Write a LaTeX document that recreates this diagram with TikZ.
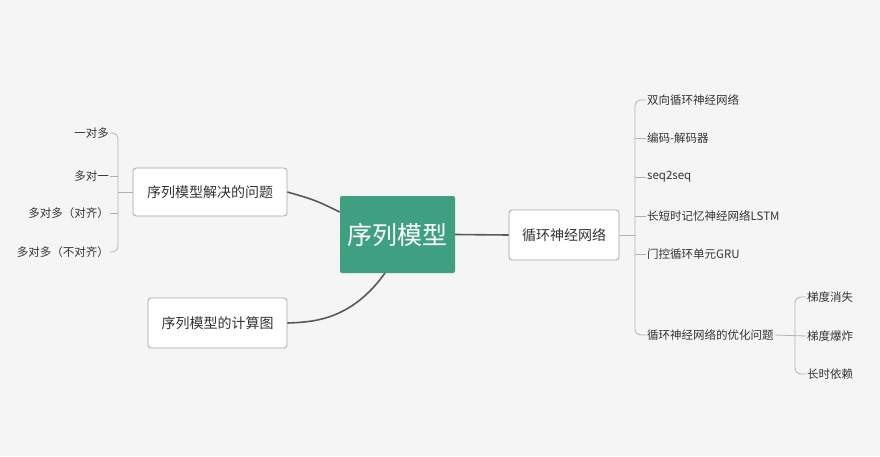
\documentclass[tikz,border=0pt]{standalone}
\usepackage{fontspec}
\setmainfont{Noto Sans CJK SC}
\definecolor{mgreen}{RGB}{62,160,128}
\begin{document}
\begin{tikzpicture}[x=1pt,y=-1pt,
  box/.style={draw=black!35,fill=white,rounded corners=3pt,line width=0.8pt,font=\fontsize{14}{16}\selectfont,text=black!80,inner sep=0pt},
  leaf/.style={font=\fontsize{11.5}{13}\selectfont,text=black!80,inner sep=1pt},
  br/.style={draw=black!30,line width=0.8pt},
  main/.style={draw=black!65,line width=1.6pt}]
\fill[black!4] (0,0) rectangle (880,456);
\useasboundingbox (0,0) rectangle (880,456);
\node[fill=mgreen,rounded corners=2pt,minimum width=115pt,minimum height=77pt,text=white,font=\fontsize{25}{28}\selectfont] (c) at (397.5,234.5) {序列模型};
\node[box,minimum width=154pt,minimum height=48pt] (b1) at (210,192) {序列模型解决的问题};
\node[box,minimum width=139pt,minimum height=50pt] (b2) at (217.5,323) {序列模型的计算图};
\node[box,minimum width=110pt,minimum height=50pt] (b3) at (564,235) {循环神经网络};
\draw[main] (c.west|-0,212) .. controls (315,200) .. (b1.east);
\draw[main] (385,273) .. controls (350,322) and (310,322) .. (b2.east);
\draw[main] (c.east) -- (b3.west);
% left leaves
\node[leaf,anchor=east] (l1) at (110,133) {一对多};
\node[leaf,anchor=east] (l2) at (110,176) {多对一};
\node[leaf,anchor=east] (l3) at (110,213) {多对多（对齐）};
\node[leaf,anchor=east] (l4) at (110,252) {多对多（不对齐）};
\coordinate (lj) at (118,192);
\draw[br] (b1.west) -- (lj);
\draw[br,rounded corners=6pt] (l1.east) -| (lj) |- (l4.east);
\draw[br] (l2.east) -- (118,176) (l3.east) -- (118,213);
% right leaves
\node[leaf,anchor=west] (r1) at (646,100) {双向循环神经网络};
\node[leaf,anchor=west] (r2) at (646,138) {编码-解码器};
\node[leaf,anchor=west] (r3) at (646,177) {seq2seq};
\node[leaf,anchor=west] (r4) at (646,216) {长短时记忆神经网络LSTM};
\node[leaf,anchor=west] (r5) at (646,254) {门控循环单元GRU};
\node[leaf,anchor=west] (r6) at (646,335) {循环神经网络的优化问题};
\coordinate (rj) at (635,235);
\draw[br] (b3.east) -- (rj);
\draw[br,rounded corners=6pt] (r1.west) -| (rj) |- (r6.west);
\draw[br] (635,138) -- (r2.west) (635,177) -- (r3.west) (635,216) -- (r4.west) (635,254) -- (r5.west);
\node[leaf,anchor=west] (s1) at (806,297) {梯度消失};
\node[leaf,anchor=west] (s2) at (806,336) {梯度爆炸};
\node[leaf,anchor=west] (s3) at (806,374) {长时依赖};
\coordinate (sj) at (795,336);
\draw[br] (r6.east) -- (s2.west);
\draw[br,rounded corners=6pt] (s1.west) -| (sj) |- (s3.west);
\end{tikzpicture}
\end{document}
